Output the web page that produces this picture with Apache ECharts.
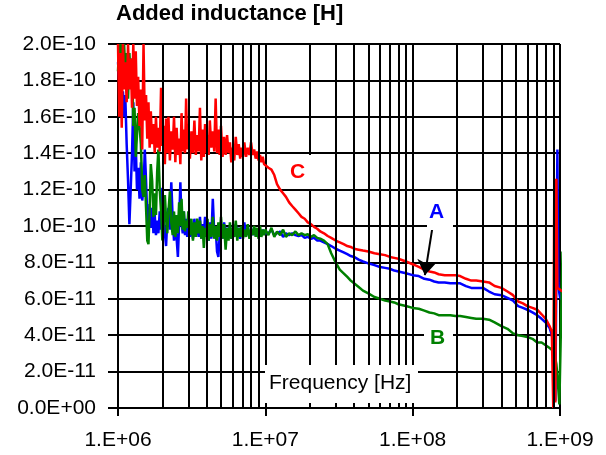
<!DOCTYPE html>
<html>
<head>
<meta charset="utf-8">
<script src="https://cdn.jsdelivr.net/npm/echarts@6/dist/echarts.min.js"></script>
<style>
  html, body { margin: 0; padding: 0; background: #fff; }
  #chart { width: 606px; height: 455px; }
</style>
</head>
<body>
<div id="chart"></div>
<script>
// frequency in MHz, inductance values in units of 1E-11 H
const freqMHz = [
  // 1 - 10 MHz (dense, noisy part)
  1.00,1.02,1.04,1.06,1.08,1.10,1.12,1.145,1.17,1.195,
  1.22,1.245,1.27,1.295,1.32,1.345,1.37,1.40,1.43,1.46,
  1.49,1.52,1.55,1.58,1.61,1.64,1.67,1.705,1.74,1.775,
  1.81,1.845,1.88,1.92,1.96,2.00,2.04,2.08,2.12,2.16,
  2.20,2.25,2.30,2.35,2.40,2.45,2.50,2.55,2.60,2.65,
  2.70,2.75,2.80,2.85,2.90,2.95,3.00,3.075,3.15,3.225,
  3.30,3.375,3.45,3.525,3.60,3.675,3.75,3.825,3.90,3.975,
  4.05,4.125,4.20,4.30,4.40,4.50,4.60,4.70,4.80,4.90,
  5.00,5.125,5.25,5.375,5.50,5.625,5.75,5.875,6.0,6.15,
  6.3,6.45,6.6,6.75,6.9,7.05,7.2,7.4,7.6,7.8,
  8.0,8.2,8.4,8.6,8.8,9.0,9.2,9.4,9.6,9.8,
  10,
  // above 10 MHz
  10.5,11,11.5,12,
  12.6,13.2,13.8,14.5,15.2,16,16.8,17.6,18.5,19.4,
  20.4,21.4,22.5,23.6,25,26.5,28,30,32,34,
  36,38,40,43,46,50,55,60,65,70,
  75,80,90,100,110,120,130,140,150,165,
  180,195,210,230,250,270,300,330,360,400,
  440,480,520,560,600,650,700,750,800,850,
  880,900,915,930,945,960,975,990,1000,1020,
  1040
];

// curve A (blue)
const inductA = [
  19,18,17.6,16.2,17.4,16.0,17.2,14.5,12.5,10.1,
  10.1,14.0,16.8,13.0,14.5,12.0,13.2,11.5,13.5,11.4,
  12.0,14.2,12.5,10.5,9.7,11.2,9.9,11.0,9.6,10.6,
  9.5,10.3,9.6,10.8,9.8,12.1,10.6,9.6,8.9,10.3,
  11.0,9.8,12.4,10.4,9.2,10.0,9.3,8.3,10.2,12.4,
  10.2,9.6,10.8,9.5,10.4,9.4,10.5,9.4,10.1,9.3,
  10.4,9.5,10.2,9.4,10.5,9.3,10.1,9.6,10.5,9.4,
  9.9,9.2,10.2,9.3,11.5,9.6,9.9,8.6,8.3,9.5,
  10.1,9.3,10.2,9.4,9.9,9.5,10.0,9.3,9.8,9.4,
  10.1,9.5,9.9,9.3,9.9,9.4,10.2,9.5,9.8,9.4,
  9.9,9.5,9.8,9.5,9.8,9.5,9.7,9.5,9.8,9.6,
  9.7,
  9.6,9.8,9.5,9.6,
  9.7,9.4,9.6,9.5,9.6,9.5,9.45,9.5,9.35,9.4,
  9.3,9.35,9.2,9.2,9.1,9.0,8.9,8.75,8.65,8.55,
  8.45,8.35,8.3,8.15,8.05,7.95,7.85,7.75,7.7,7.65,
  7.55,7.5,7.4,7.3,7.25,7.1,7.05,6.95,6.9,6.9,
  6.85,6.85,6.85,6.7,6.6,6.6,6.6,6.4,6.25,6.2,
  6.05,5.9,5.6,5.5,5.4,5.25,5.1,4.9,4.7,4.4,
  4.0,3.6,3.4,0.4,0.4,14.2,6.9,6.3,6.1,6.0,
  5.9
];

// curve B (green)
const inductB = [
  18.5,20,19,20,19.2,20,18.5,19.5,17.0,19.5,
  18.0,19.2,15.5,16.5,13.8,15.0,16.2,15.5,14.5,12.0,
  11.6,12.8,11.0,9.2,9.0,11.0,13.4,12.5,10.5,11.8,
  10.6,13.0,14.2,12.0,10.8,9.2,10.0,11.7,10.4,9.6,
  10.8,11.9,10.2,9.5,10.8,9.4,10.6,9.6,11.3,10.0,
  11.5,9.8,10.8,9.7,10.3,9.9,10.8,9.5,10.4,9.2,
  10.2,9.4,10.4,9.6,10.3,9.3,10.0,8.8,9.9,9.4,
  10.4,9.2,10.1,9.4,10.5,9.3,10.0,9.2,10.2,9.4,
  10.5,9.3,10.1,8.7,9.9,9.2,10.2,9.3,9.9,9.4,
  10.3,9.2,9.9,9.4,10.0,9.3,9.8,9.4,10.1,9.3,
  9.8,9.5,10.0,9.4,9.9,9.3,10.0,9.4,9.8,9.5,
  9.8,
  9.5,9.9,9.4,9.7,
  9.5,9.8,9.4,9.6,9.5,9.7,9.5,9.6,9.5,9.55,
  9.4,9.5,9.35,9.3,9.2,9.0,8.5,8.0,7.6,7.4,
  7.2,7.0,6.85,6.65,6.45,6.3,6.1,6.0,5.9,5.85,
  5.8,5.7,5.6,5.5,5.45,5.35,5.25,5.2,5.1,5.1,
  5.1,5.05,5.05,5.0,4.95,4.9,4.9,4.85,4.7,4.5,
  4.35,4.1,4.0,3.95,3.9,3.8,3.6,3.6,3.45,3.3,
  3.2,3.1,3.0,2.9,2.4,1.8,1.0,0.2,0.1,0.1,
  8.6
];

// curve C (red)
const inductC = [
  20,16,19.5,15.4,20,17.5,19,16.8,20,17.5,
  19.2,16.5,20,17,19.6,16.6,18.2,15.5,17.5,14.2,
  20,15.8,17.2,14.8,16.8,14.3,16.3,14.5,15.6,14.0,
  16.0,14.3,15.4,14.1,17.6,14.4,15.5,13.4,15.9,14.0,
  16.0,13.6,15.2,14.2,16.0,13.5,15.4,13.9,14.8,13.4,
  16.2,14.1,15.3,14.0,17.0,14.2,15.6,13.7,15.2,14.0,
  15.8,13.9,15.0,14.1,16.5,13.6,15.3,13.8,15.6,14.0,
  15.0,13.9,15.8,14.3,15.2,14.1,17.0,14.0,15.3,13.9,
  15.5,13.8,14.9,13.9,15.0,14.0,14.6,13.5,14.3,13.6,
  14.9,13.9,14.5,13.7,14.3,13.8,14.6,13.8,14.3,13.9,
  14.6,13.9,14.2,13.7,14.1,13.6,13.9,13.5,13.8,13.4,
  13.5,
  13.2,13.1,12.8,12.3,
  12.0,11.8,11.6,11.3,11.1,10.9,10.7,10.5,10.4,10.2,
  10.1,9.95,9.85,9.7,9.6,9.45,9.35,9.2,9.1,9.0,
  8.9,8.85,8.75,8.7,8.65,8.6,8.5,8.45,8.4,8.3,
  8.25,8.2,8.05,7.9,7.75,7.6,7.5,7.45,7.35,7.3,
  7.3,7.3,7.25,7.1,7.0,7.0,6.95,6.9,6.7,6.6,
  6.4,6.2,5.85,5.75,5.6,5.5,5.4,5.15,4.9,4.5,
  4.2,0,12.6,0.3,12.6,6.6,6.5,6.5,6.5,6.45,
  6.4
];

// minor vertical grid lines (Hz)
const minorGridHz = [];
[1e6, 1e7, 1e8].forEach(function (d) {
  for (let k = 2; k <= 9; k++) minorGridHz.push(k * d);
});

// arrow from label A to curve A: [Hz, 1E-11 H]
const arrowFrom = [1.37e8, 10.05];
const arrowTo = [1.21e8, 7.3];

const FONT = '"Liberation Sans", Arial, sans-serif';

function pairs(ys) {
  return freqMHz.map(function (f, i) { return [f * 1e6, ys[i]]; });
}

function yLabel(v) {
  if (Math.abs(v) < 1e-9) return '0.0E+00';
  const s = (v * 1e-11).toExponential(1).split('e');
  const sign = s[1][0];
  let e = s[1].slice(1);
  if (e.length < 2) e = '0' + e;
  return s[0] + 'E' + sign + e;
}

function xLabel(v) {
  let e = String(Math.round(Math.log10(v)));
  if (e.length < 2) e = '0' + e;
  return '1.E+' + e;
}

const chart = echarts.init(document.getElementById('chart'));

const black = { color: '#000', width: 2 };

chart.setOption({
  animation: false,
  backgroundColor: '#fff',
  title: {
    text: 'Added inductance [H]',
    left: 116,
    top: 3,
    padding: 0,
    textStyle: { fontFamily: FONT, fontSize: 22, fontWeight: 'bold', color: '#000' }
  },
  grid: { left: 118, right: 46, top: 44, bottom: 47 },
  xAxis: {
    type: 'log',
    logBase: 10,
    min: 1e6,
    max: 1e9,
    splitNumber: 3,
    axisLine: { show: true, lineStyle: black },
    axisTick: { show: true, length: 8, lineStyle: black },
    splitLine: { show: true, lineStyle: black },
    axisLabel: { fontFamily: FONT, fontSize: 21, color: '#000', margin: 22, formatter: xLabel }
  },
  yAxis: {
    type: 'value',
    min: 0,
    max: 20,
    interval: 2,
    axisLine: { show: true, lineStyle: black },
    axisTick: { show: true, length: 10, lineStyle: black },
    splitLine: { show: true, lineStyle: black },
    axisLabel: { fontFamily: FONT, fontSize: 21, color: '#000', margin: 22, formatter: yLabel }
  },
  series: [
    {
      name: 'grid',
      type: 'line',
      z: 1,
      data: [],
      markLine: {
        silent: true,
        symbol: 'none',
        label: { show: false },
        lineStyle: { color: '#000', width: 2, type: 'solid' },
        data: minorGridHz.map(function (v) { return { xAxis: v }; })
      }
    },
    {
      name: 'A',
      type: 'line',
      showSymbol: false,
      clip: false,
      lineStyle: { color: '#0000ff', width: 2.5 },
      data: pairs(inductA)
    },
    {
      name: 'B',
      type: 'line',
      showSymbol: false,
      clip: false,
      lineStyle: { color: '#008000', width: 2.5 },
      data: pairs(inductB)
    },
    {
      name: 'C',
      type: 'line',
      showSymbol: false,
      clip: false,
      lineStyle: { color: '#ff0000', width: 2.5 },
      data: pairs(inductC),
      markLine: {
        silent: true,
        z: 10,
        symbol: ['none', 'arrow'],
        symbolSize: 15,
        label: { show: false },
        lineStyle: { color: '#000', width: 2, type: 'solid' },
        data: [[{ coord: arrowFrom }, { coord: arrowTo }]]
      }
    }
  ],
  graphic: [
    {
      type: 'rect', z: 50,
      shape: { x: 265, y: 365, width: 153, height: 38 },
      style: { fill: '#fff' }
    },
    {
      type: 'text', z: 51, left: 269, top: 373,
      style: { text: 'Frequency [Hz]', font: '21px ' + FONT, fill: '#000' }
    },
    {
      type: 'rect', z: 50,
      shape: { x: 285, y: 155, width: 28, height: 34 },
      style: { fill: '#fff' }
    },
    {
      type: 'text', z: 51, left: 290, top: 162,
      style: { text: 'C', font: 'bold 21px ' + FONT, fill: '#ff0000' }
    },
    {
      type: 'rect', z: 50,
      shape: { x: 427, y: 196, width: 26, height: 34 },
      style: { fill: '#fff' }
    },
    {
      type: 'text', z: 51, left: 429, top: 202,
      style: { text: 'A', font: 'bold 21px ' + FONT, fill: '#0000ff' }
    },
    {
      type: 'rect', z: 50,
      shape: { x: 424, y: 321, width: 29, height: 34 },
      style: { fill: '#fff' }
    },
    {
      type: 'text', z: 51, left: 430, top: 328,
      style: { text: 'B', font: 'bold 21px ' + FONT, fill: '#008000' }
    }
  ]
});
</script>
</body>
</html>
